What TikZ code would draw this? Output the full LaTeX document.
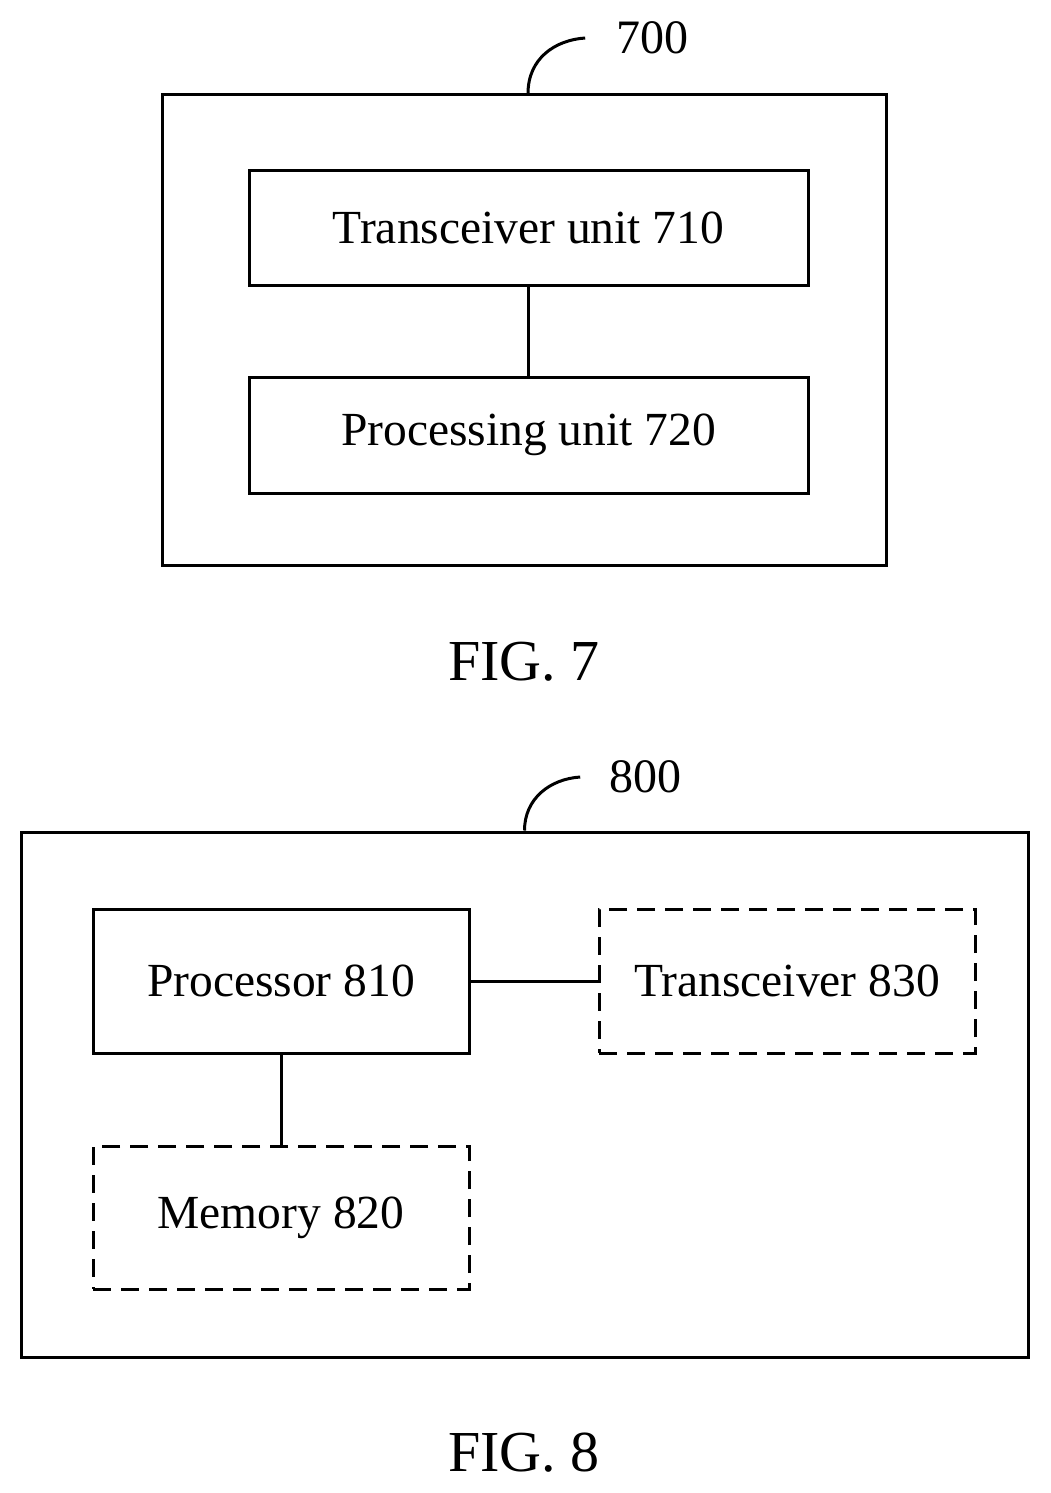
\documentclass[tikz,border=0pt]{standalone}
\usepackage{fontspec}
\setmainfont{Liberation Serif}
\begin{document}
\begin{tikzpicture}[x=1pt,y=-1pt,
  every path/.style={line width=3pt},
  bx/.style={draw,line width=3pt,inner sep=0,font=\fontsize{47.5}{56}\selectfont},
  lbl/.style={font=\fontsize{48}{56}\selectfont},
  fig/.style={font=\fontsize{58}{68}\selectfont},
  dsh/.style={dash pattern=on 18pt off 10pt}]
\useasboundingbox (0,0) rectangle (1050,1493);
% FIG 7
\node[draw,line width=3pt,minimum width=724pt,minimum height=470pt,inner sep=0] (o7) at (524,330) {};
\node[lbl] (n700) at (652,38) {700};
\draw (o7.north -| 528,0) .. controls +(0,-35) and (555,40) .. ([xshift=-26pt]n700.west);
\node[bx,minimum width=559pt,minimum height=115pt] (t710) at (528.5,227.5) {Transceiver unit 710};
\node[bx,minimum width=559pt,minimum height=116pt] (p720) at (528.5,435) {Processing unit 720};
\draw (t710) -- (p720);
\node[fig] (f7) at (524,662) {FIG. 7};
% FIG 8
\node[draw,line width=3pt,minimum width=1007pt,minimum height=525pt,inner sep=0] (o8) at (524.5,1094.5) {};
\node[lbl] (n800) at (645,777) {800};
\draw (o8.north) .. controls +(0,-32) and (550,779) .. ([xshift=-24pt]n800.west);
\node[bx,minimum width=376pt,minimum height=144pt] (p810) at (281,981) {Processor 810};
\node[bx,dsh,minimum width=376pt,minimum height=144pt] (t830) at (787,981) {Transceiver 830};
\node[bx,dsh,minimum width=376pt,minimum height=143pt] (m820) at (281,1217.5) {Memory 820};
\draw (p810) -- (t830);
\draw (p810) -- (m820);
\node[fig] (f8) at (524,1453) {FIG. 8};
\end{tikzpicture}
\end{document}
